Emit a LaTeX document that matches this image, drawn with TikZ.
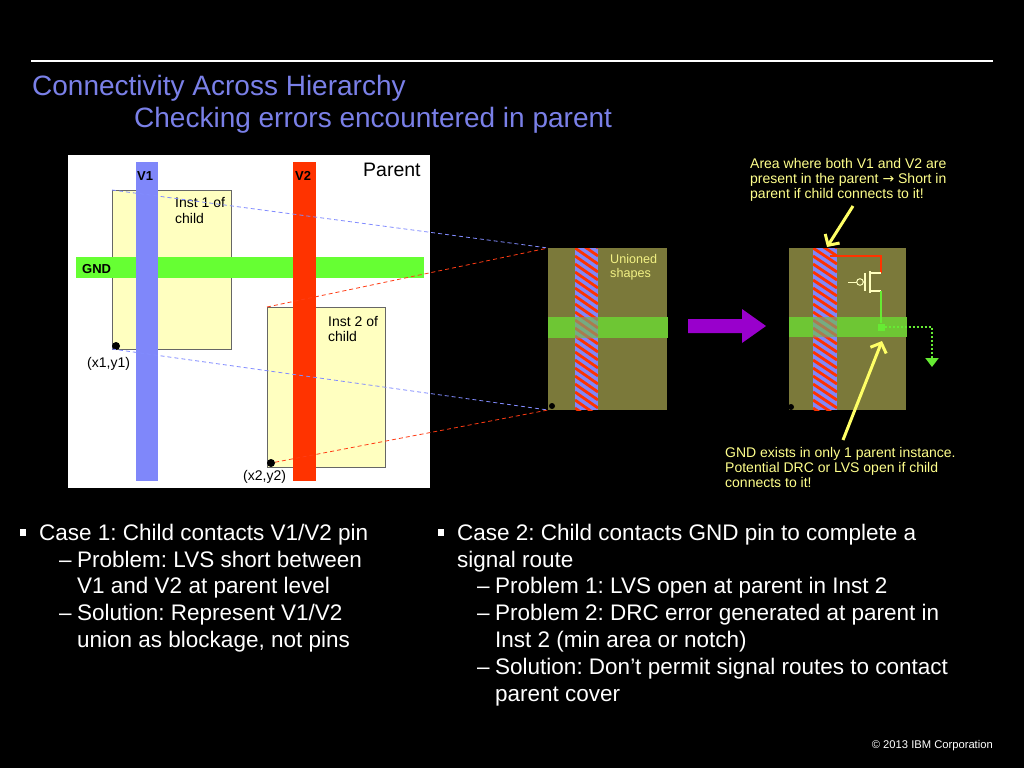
\documentclass[tikz,border=0pt]{standalone}
\usepackage{fontspec}
\setmainfont{Liberation Sans}
\newfontfamily\arrowfont{DejaVu Sans}
\usetikzlibrary{arrows.meta}
\frenchspacing
\definecolor{titleblue}{RGB}{122,128,232}
\definecolor{vone}{RGB}{127,135,250}
\definecolor{vtwo}{RGB}{255,51,0}
\definecolor{gnd}{RGB}{102,255,51}
\definecolor{instfill}{RGB}{255,255,192}
\definecolor{olive}{RGB}{123,121,58}
\definecolor{boxgreen}{RGB}{110,198,52}
\definecolor{notetext}{RGB}{255,255,140}
\definecolor{notearrow}{RGB}{255,255,102}
\definecolor{purplearrow}{RGB}{153,0,204}
\definecolor{wiregreen}{RGB}{102,235,51}
\definecolor{tcol}{RGB}{255,255,190}
\definecolor{projblue}{RGB}{130,140,255}
\definecolor{projred}{RGB}{255,60,20}
% hatched V1/V2 union stripe, #1 = left edge, #2 = width, #3 = opacity
\newcommand{\unionbar}[3]{%
  \begin{scope}[opacity=#3]
    \clip (#1,248) rectangle ++(#2,162);
    \fill[vone] (#1,248) rectangle ++(#2,162);
    \foreach \yy in {224,232,...,416}
      \draw[vtwo,line width=2.8] (#1,\yy) -- ++(#2,16);
  \end{scope}}
\begin{document}
\begin{tikzpicture}[x=1pt,y=-1pt,
title/.style={anchor=base west,inner sep=0pt,text=titleblue,font=\fontsize{28}{30}\selectfont},
body/.style={anchor=base west,inner sep=0pt,text=white,font=\fontsize{22.5}{27}\selectfont},
lbl/.style={anchor=base west,inner sep=0pt,font=\fontsize{14}{16}\selectfont},
blbl/.style={anchor=base west,inner sep=0pt,font=\bfseries\fontsize{13}{15}\selectfont},
note/.style={anchor=base west,inner sep=0pt,text=notetext,font=\fontsize{14}{15}\selectfont},
inst/.style={draw=black!60,fill=instfill,anchor=north west,inner sep=0pt,outer sep=0pt,line width=0.8},
layout/.style={fill=olive,anchor=north west,inner sep=0pt,outer sep=0pt,minimum height=162},
bullet/.style={fill=white,inner sep=0pt,minimum width=6,minimum height=7},
dotnode/.style={circle,fill=black,inner sep=0pt,minimum size=#1},
proj/.style={#1,line width=0.8,dash pattern=on 4pt off 3pt},
callout/.style={notearrow,line width=3,-{Straight Barb[length=8,width=17]}}]
\fill[black] (0,0) rectangle (1024,768);
\draw[white,line width=1.2] (31,61) -- (993,61);
\node[title] (t1) at (32,95) {Connectivity Across Hierarchy};
\node[title] (t2) at (134,127) {Checking errors encountered in parent};

% parent view
\fill[white] (68,155) rectangle (430,488);
\node[inst,minimum width=119,minimum height=159] (inst1) at (112,190) {};
\node[inst,minimum width=118,minimum height=160] (inst2) at (267,307) {};
\fill[gnd] (76,257) rectangle (424,278);
\fill[vone] (136,162) rectangle (158,481);
\fill[vtwo] (293,162) rectangle (316,481);
\node[blbl] (v1) at (137,180) {V1};
\node[blbl] (v2) at (295,180) {V2};
\node[blbl] (gndl) at (82,273) {GND};
\node[lbl,font=\fontsize{19.5}{21}\selectfont] (par) at (363,176) {Parent};
\node[lbl] (i1a) at (175,207) {Inst 1 of};
\node[lbl] (i1b) at (175,223) {child};
\node[lbl] (i2a) at (328,326) {Inst 2 of};
\node[lbl] (i2b) at (328,341) {child};
\node[dotnode=8] (p1) at (116,346) {};
\node[dotnode=8] (p2) at (271,463) {};
\node[lbl] (xy1) at (87,367) {(x1,y1)};
\node[lbl] (xy2) at (243,480) {(x2,y2)};

% unioned shapes
\node[layout,minimum width=119] (mid) at (548,248) {};
\unionbar{575}{23}{1}
\fill[boxgreen] (548,317) rectangle (668,338);
\begin{scope}
  \clip (548,317) rectangle (668,338);
  \unionbar{575}{23}{0.4}
\end{scope}
\node[note,text=notetext!90!olive,font=\fontsize{12.6}{14}\selectfont] (u1) at (610,263) {Unioned};
\node[note,text=notetext!90!olive,font=\fontsize{12.6}{14}\selectfont] (u2) at (610,277) {shapes};
\node[dotnode=6] (p3) at (552,406) {};

\draw[proj=projblue] (inst1.north west) -- (mid.north west);
\draw[proj=projblue] (inst1.south west) -- (mid.south west);
\draw[proj=projred] (inst2.north west) -- (mid.north west);
\draw[proj=projred] (p2) -- (mid.south west);

\fill[purplearrow] (688,319) -- (742,319) -- (742,309) -- (766,326) -- (742,343) -- (742,333) -- (688,333) -- cycle;

% parent with child route
\node[layout,minimum width=117] (right) at (789,248) {};
\unionbar{813}{24}{1}
\fill[boxgreen] (789,317) rectangle (907,337);
\begin{scope}
  \clip (789,317) rectangle (907,337);
  \unionbar{813}{24}{0.4}
\end{scope}
\node[dotnode=6] (p4) at (791,407) {};
\draw[vtwo,line width=2] (830,256) -| (881,273);
\draw[tcol,line width=1] (848,282) -- (856.7,282);
\draw[tcol,line width=1] (860,282) circle (3.3);
\draw[tcol,line width=1.5] (865,273) -- (865,291);
\draw[tcol,line width=2.5] (870,271) -- (870,293);
\draw[tcol,line width=1.5] (870,273) -- (881,273) (870,291) -- (881,291);
\node[fill=wiregreen,inner sep=0pt,minimum size=7] (via) at (881,327) {};
\draw[wiregreen,line width=1.5] (881,291) -- (via);
\coordinate (gndend) at (932,367);
\draw[wiregreen,line width=2,dotted,-{Triangle[length=9,width=13]}] (via.east) -| (gndend);

\node[note] (n1) at (750,168) {Area where both V1 and V2 are};
\node[note] (n2) at (750,183) {present in the parent {\arrowfont →} Short in};
\node[note] (n3) at (750,198) {parent if child connects to it!};
\node[note] (n4) at (725,457) {GND exists in only 1 parent instance.};
\node[note] (n5) at (725,472) {Potential DRC or LVS open if child};
\node[note] (n6) at (725,487) {connects to it!};
\coordinate (a1) at (853,206);
\coordinate (a2) at (827,247);
\coordinate (a3) at (843,440);
\coordinate (a4) at (882,341);
\draw[callout] (a1) -- (a2);
\draw[callout] (a3) -- (a4);

% bullets
\node[bullet] (b1) at (23,532.5) {};
\node[body] (l1) at (39,540) {Case 1: Child contacts V1/V2 pin};
\node[body] (l2d) at (59,567) {–};
\node[body] (l2) at (77,567) {Problem: LVS short between};
\node[body] (l3) at (77,593) {V1 and V2 at parent level};
\node[body] (l4d) at (59,620) {–};
\node[body] (l4) at (77,620) {Solution: Represent V1/V2};
\node[body] (l5) at (77,647) {union as blockage, not pins};
\node[bullet] (b2) at (441,532.5) {};
\node[body] (r1) at (457,540) {Case 2: Child contacts GND pin to complete a};
\node[body] (r2) at (457,567) {signal route};
\node[body] (r3d) at (477,593) {–};
\node[body] (r3) at (495,593) {Problem 1: LVS open at parent in Inst 2};
\node[body] (r4d) at (477,620) {–};
\node[body] (r4) at (495,620) {Problem 2: DRC error generated at parent in};
\node[body] (r5) at (495,647) {Inst 2 (min area or notch)};
\node[body] (r6d) at (477,674) {–};
\node[body] (r6) at (495,674) {Solution: Don’t permit signal routes to contact};
\node[body] (r7) at (495,701) {parent cover};
\node[anchor=base east,inner sep=0pt,text=white,font=\fontsize{11.2}{13}\selectfont] (copy) at (993,748) {© 2013 IBM Corporation};
\end{tikzpicture}
\end{document}
